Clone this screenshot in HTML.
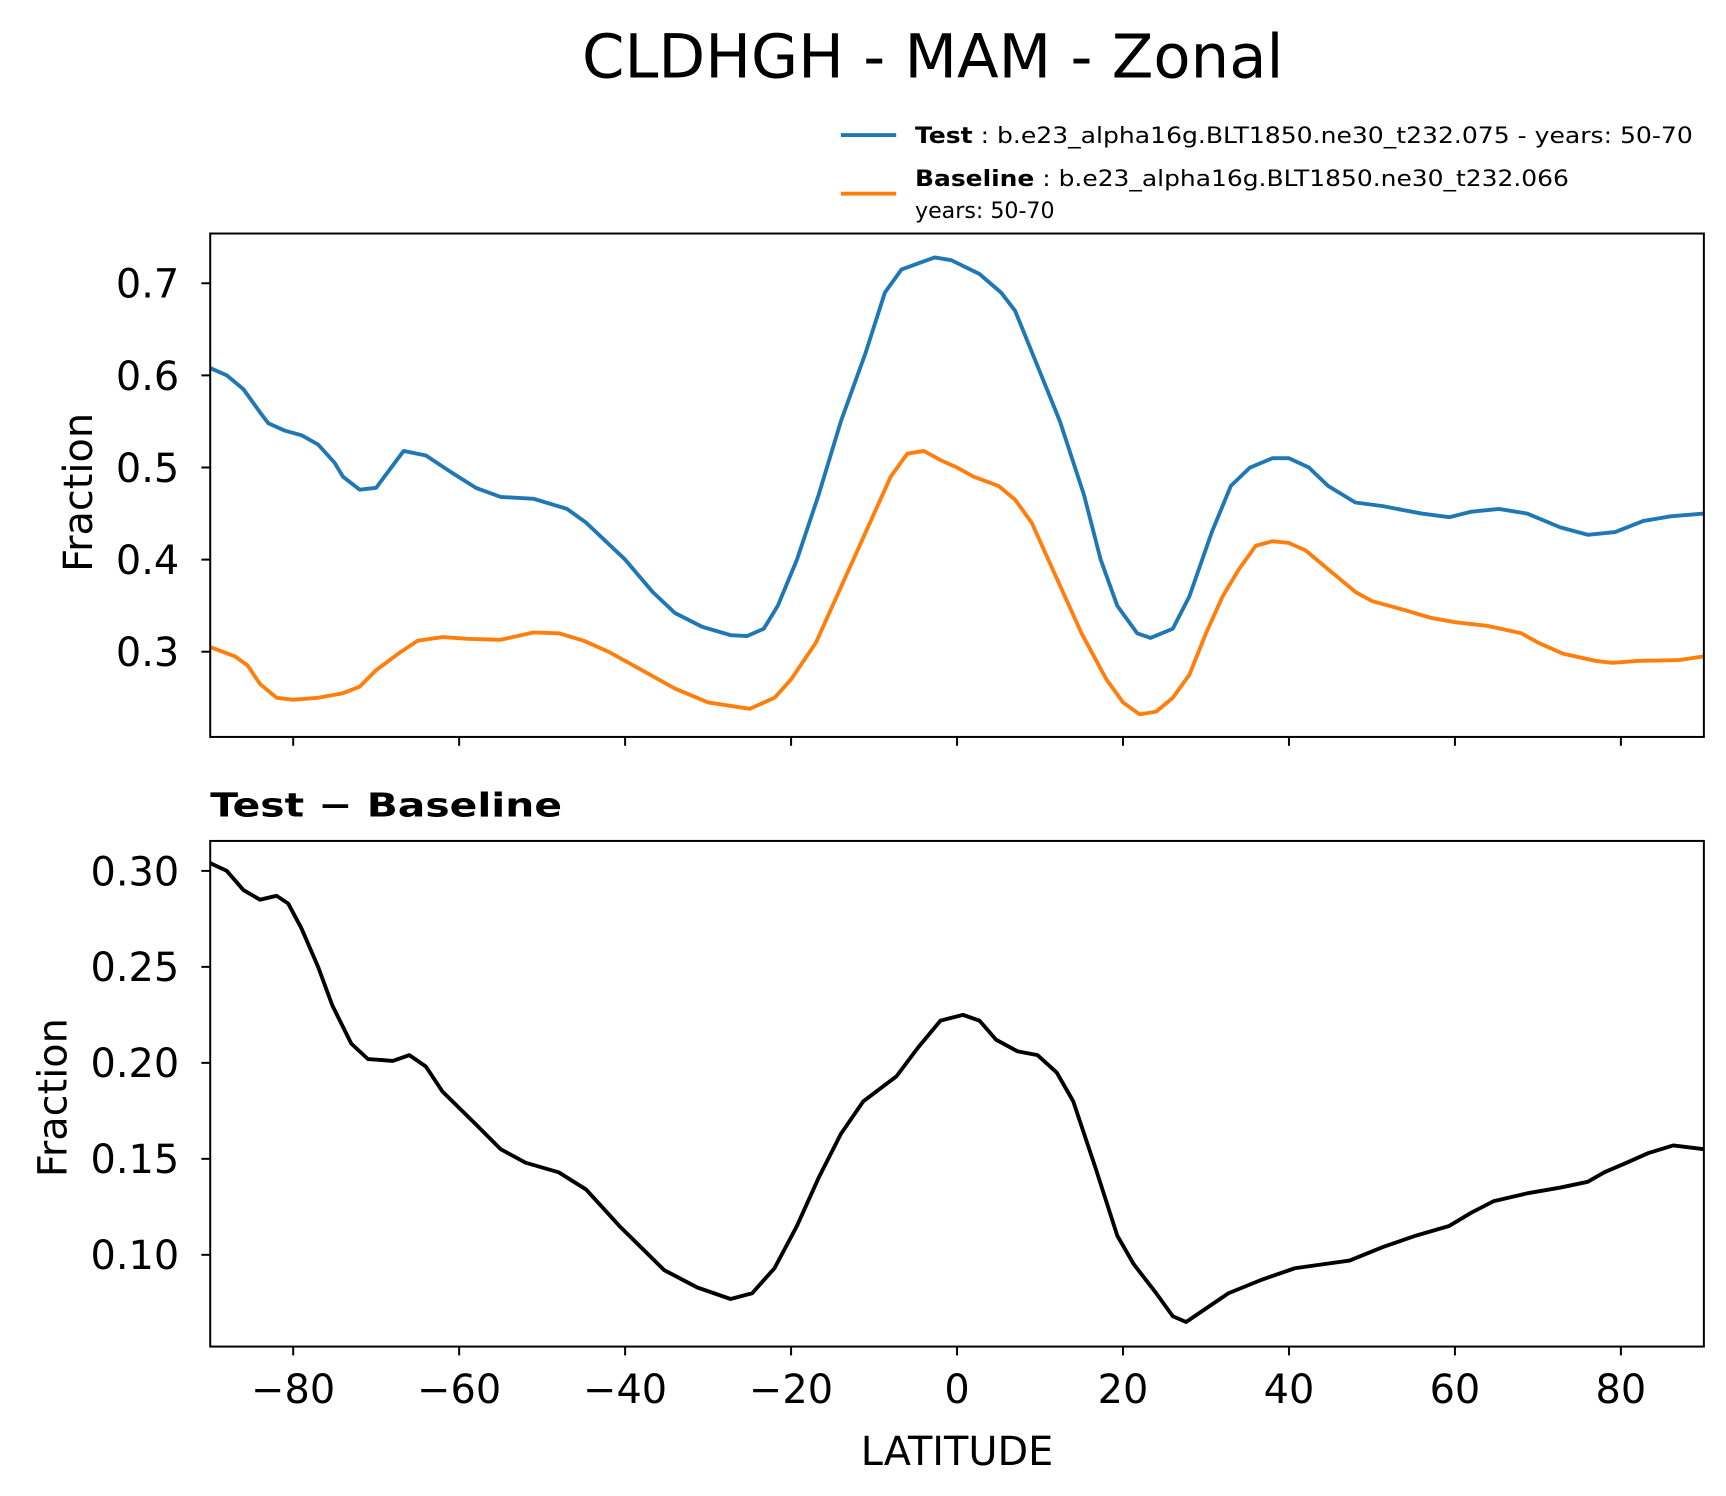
<!DOCTYPE html>
<html><head><meta charset="utf-8"><style>html,body{margin:0;padding:0;background:#fff}svg{display:block}text{font-family:"DejaVu Sans","Liberation Sans",sans-serif}</style></head>
<body>
<svg id="fig" width="1726" height="1496" viewBox="0 0 1560 1352" xmlns="http://www.w3.org/2000/svg">
<rect width="1560" height="1352" fill="#fff"/>
<text x="843" y="70" font-size="55" text-anchor="middle">CLDHGH - MAM - Zonal</text>
<g>
<line x1="760" y1="122" x2="810" y2="122" stroke="#1f77b4" stroke-width="3.5"/>
<text x="827" y="129" font-size="20" textLength="703" lengthAdjust="spacingAndGlyphs"><tspan font-weight="bold">Test</tspan> : b.e23_alpha16g.BLT1850.ne30_t232.075 - years: 50-70</text>
<line x1="760" y1="175" x2="810" y2="175" stroke="#ff7f0e" stroke-width="3.5"/>
<text x="827" y="168" font-size="20" textLength="591" lengthAdjust="spacingAndGlyphs"><tspan font-weight="bold">Baseline</tspan> : b.e23_alpha16g.BLT1850.ne30_t232.066</text>
<text x="827" y="197" font-size="20">years: 50-70</text>
</g>
<text x="190" y="738" font-size="30" font-weight="bold" textLength="318" lengthAdjust="spacingAndGlyphs">Test − Baseline</text>
<text transform="translate(83,445) rotate(-90)" font-size="36" text-anchor="middle">Fraction</text>
<text transform="translate(60,992) rotate(-90)" font-size="36" text-anchor="middle">Fraction</text>
<text x="865" y="1324" font-size="36" text-anchor="middle">LATITUDE</text>
<g id="plots"></g>
</svg>
<script>
const lat = [-90,-88,-86,-84,-83,-81,-79,-77,-75,-74,-72,-70,-66.7,-64,-61,-58,-55,-51,-47,-44.7,-40,-36.7,-34,-30.7,-27.3,-25.3,-23.3,-21.6,-19.3,-16.7,-14,-11,-8.7,-6.7,-2.7,-0.7,2.7,5.3,7,9.7,12.4,15.3,17.3,19.3,21.7,23.3,26,28,30.7,33,35.3,38,40,42.4,44.7,48,51.3,56,59.3,62,65.3,68.7,72.7,76,79.3,82.7,86,90];
const testVals = [0.608,0.60,0.585,0.56,0.548,0.54,0.535,0.525,0.505,0.49,0.476,0.478,0.518,0.513,0.495,0.478,0.468,0.466,0.455,0.44,0.40,0.365,0.342,0.327,0.318,0.317,0.325,0.35,0.40,0.47,0.55,0.625,0.69,0.715,0.728,0.725,0.71,0.69,0.67,0.61,0.55,0.47,0.40,0.35,0.32,0.315,0.325,0.36,0.43,0.48,0.50,0.51,0.51,0.50,0.48,0.462,0.458,0.45,0.446,0.452,0.455,0.45,0.435,0.427,0.43,0.442,0.447,0.45];
const baseLat = [-90,-87,-85.5,-84,-82,-80,-77,-74,-72,-70,-67,-65,-62,-59,-55,-51,-48,-45,-42,-38,-34,-30,-25,-22,-20,-17,-14,-11,-8,-6,-4,-2,0,2,5,7,9,12,15,18,20,22,24,26,28,30,32,34,36,38,40,42,44,46,48,50,54,57,60,64,68,70,73,77,79,82,87,90];
const baseVals = [0.305,0.295,0.285,0.265,0.25,0.248,0.25,0.255,0.262,0.28,0.30,0.312,0.316,0.314,0.313,0.321,0.32,0.312,0.30,0.28,0.26,0.245,0.238,0.25,0.27,0.31,0.37,0.43,0.49,0.515,0.518,0.508,0.50,0.49,0.48,0.465,0.44,0.38,0.32,0.27,0.245,0.232,0.235,0.25,0.275,0.32,0.36,0.39,0.415,0.42,0.418,0.41,0.395,0.38,0.365,0.355,0.345,0.337,0.332,0.328,0.32,0.31,0.298,0.29,0.288,0.29,0.291,0.295];
const diffLat = [-90,-88,-86,-84,-82,-80.6,-79,-77,-75.3,-73,-71,-68,-66,-64,-62,-58,-55,-52,-48,-44.7,-40.7,-35.3,-31.3,-27.3,-24.7,-22,-19.3,-16.7,-14,-11.3,-7.3,-4.7,-2,0.7,2.7,4.7,7.3,9.7,12,14,16.7,19.3,21.3,24,26,27.6,30,32.7,36.7,40.7,44,47.3,51.3,55.3,59.3,62,64.7,68.7,72.7,76,78,80.7,83.3,86.3,90];
const diffVals = [0.304,0.30,0.29,0.285,0.287,0.283,0.27,0.25,0.23,0.21,0.202,0.201,0.204,0.198,0.185,0.168,0.155,0.148,0.143,0.134,0.115,0.092,0.083,0.077,0.080,0.093,0.115,0.14,0.163,0.18,0.193,0.208,0.222,0.225,0.222,0.212,0.206,0.204,0.195,0.18,0.145,0.11,0.095,0.08,0.068,0.065,0.072,0.08,0.087,0.093,0.095,0.097,0.104,0.11,0.115,0.122,0.128,0.132,0.135,0.138,0.143,0.148,0.153,0.157,0.155];
const xTicks = [-80,-60,-40,-20,0,20,40,60,80];
const topYTicks = [0.3,0.4,0.5,0.6,0.7];
const botYTicks = [0.10,0.15,0.20,0.25,0.30];

const NS='http://www.w3.org/2000/svg';
const plotG=document.getElementById('plots');
const L=190,R=1540;
const xs=v=>L+(v+90)/180*(R-L);
const topP={t:211,b:666,min:0.2075,max:0.754};
const botP={t:760,b:1217,min:0.0522,max:0.3156};
const ys=(p,v)=>p.b-(v-p.min)/(p.max-p.min)*(p.b-p.t);
function el(tag,attrs){const e=document.createElementNS(NS,tag);for(const k in attrs)e.setAttribute(k,attrs[k]);plotG.appendChild(e);return e;}
function drawLine(p,xa,ya,color,name){
  const d=xa.map((x,i)=>(i?'L':'M')+xs(x).toFixed(1)+','+ys(p,ya[i]).toFixed(1)).join('');
  const e=el('path',{d:d,fill:'none',stroke:color,'stroke-width':3.5,'stroke-linejoin':'round'});
  
  
}
function axes(p,yt,dec,labelsX,name){
  const r=el('rect',{x:L,y:p.t,width:R-L,height:p.b-p.t,fill:'none',stroke:'#000','stroke-width':1.8});
  
  
  yt.forEach(v=>{const y=ys(p,v);
    const t=el('line',{x1:L-8,x2:L,y1:y,y2:y,stroke:'#000','stroke-width':1.8});
    
    
    const tx=el('text',{x:L-28,y:y+13,'font-size':36,'text-anchor':'end'});tx.textContent=v.toFixed(dec);
    
    
  });
  xTicks.forEach(v=>{const x=xs(v);
    const t=el('line',{x1:x,x2:x,y1:p.b,y2:p.b+8,stroke:'#000','stroke-width':1.8});
    
    
    if(labelsX){const tx=el('text',{x:x,y:p.b+51,'font-size':36,'text-anchor':'middle'});tx.textContent=(v<0?'\u2212':'')+Math.abs(v);
      
      }
  });
}
drawLine(topP,lat,testVals,'#1f77b4','test-line');
drawLine(topP,baseLat,baseVals,'#ff7f0e','baseline-line');
drawLine(botP,diffLat,diffVals,'#000','difference-line');
axes(topP,topYTicks,1,false,'top-axes');
axes(botP,botYTicks,2,true,'bottom-axes');
</script>
</body></html>
